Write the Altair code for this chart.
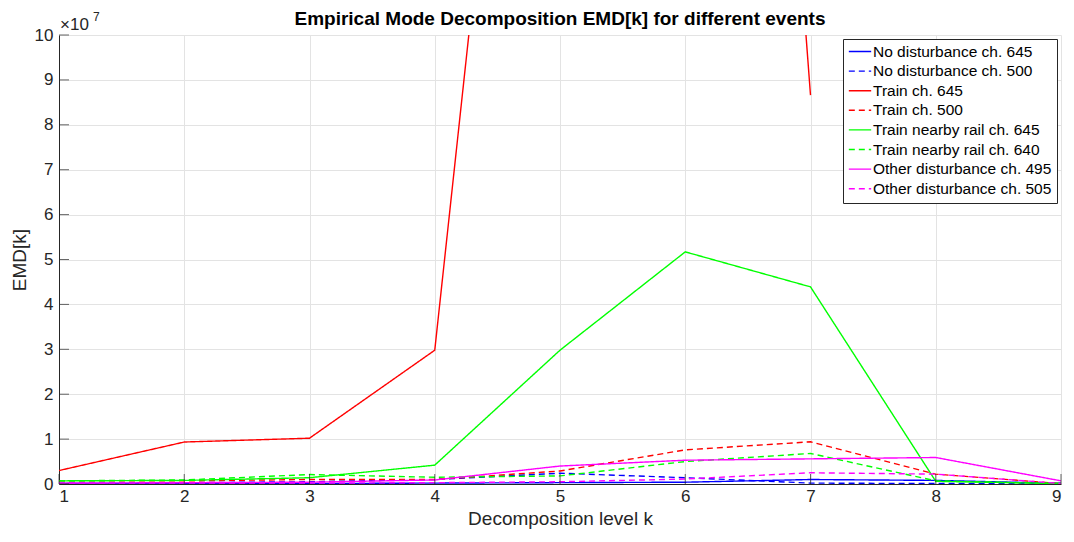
import altair as alt
import pandas as pd

# Decomposition levels k
levels = [1, 2, 3, 4, 5, 6, 7, 8, 9]

series_names = [
    "No disturbance ch. 645",
    "No disturbance ch. 500",
    "Train ch. 645",
    "Train ch. 500",
    "Train nearby rail ch. 645",
    "Train nearby rail ch. 640",
    "Other disturbance ch. 495",
    "Other disturbance ch. 505",
]
series_colors = ["#0000ff", "#0000ff", "#ff0000", "#ff0000",
                 "#00ff00", "#00ff00", "#ff00ff", "#ff00ff"]
series_dashes = [[1, 0], [6, 4], [1, 0], [6, 4],
                 [1, 0], [6, 4], [1, 0], [6, 4]]

# EMD[k] per event (Train ch. 645 is only available up to k = 7)
no_dist_645 = [0.01e7, 0.01e7, 0.01e7, 0.02e7, 0.03e7, 0.04e7, 0.10e7, 0.08e7, 0.015e7]
no_dist_500 = [0.02e7, 0.03e7, 0.05e7, 0.10e7, 0.24e7, 0.14e7, 0.02e7, 0.01e7, 0.01e7]
train_645 = [0.30e7, 0.935e7, 1.02e7, 2.98e7, 28.8e7, 45.8e7, 8.66e7]
train_500 = [0.07e7, 0.07e7, 0.10e7, 0.10e7, 0.29e7, 0.76e7, 0.94e7, 0.22e7, 0.01e7]
nearby_645 = [0.07e7, 0.08e7, 0.14e7, 0.42e7, 2.98e7, 5.17e7, 4.39e7, 0.06e7, 0.01e7]
nearby_640 = [0.07e7, 0.09e7, 0.21e7, 0.15e7, 0.18e7, 0.50e7, 0.68e7, 0.07e7, 0.01e7]
other_495 = [0.02e7, 0.03e7, 0.04e7, 0.09e7, 0.40e7, 0.53e7, 0.56e7, 0.59e7, 0.07e7]
other_505 = [0.02e7, 0.02e7, 0.02e7, 0.03e7, 0.05e7, 0.11e7, 0.25e7, 0.22e7, 0.01e7]

all_series = [no_dist_645, no_dist_500, train_645, train_500,
              nearby_645, nearby_640, other_495, other_505]

rows = []
for name, values in zip(series_names, all_series):
    for k, v in zip(levels, values):
        rows.append({"k": k, "emd": v, "event": name})
df = pd.DataFrame(rows)

FONT = "Liberation Sans"
AXIS_COLOR = "#262626"
GRID_COLOR = "#e3e3e3"
TICK_FONT = 17
LABEL_FONT = 19
LEGEND_FONT = 15.5

x_scale = alt.Scale(domain=[1, 9], nice=False, zero=False)
y_scale = alt.Scale(domain=[0, 1e8], nice=False)

lines = alt.Chart(df).mark_line(clip=True, strokeWidth=1.4).encode(
    x=alt.X("k:Q", scale=x_scale,
            axis=alt.Axis(title="Decomposition level k", values=levels,
                          format="d", grid=True, ticks=False,
                          labelPadding=4, titlePadding=5)),
    y=alt.Y("emd:Q", scale=y_scale,
            axis=alt.Axis(title="EMD[k]", values=[i * 1e7 for i in range(11)],
                          labelExpr="format(datum.value / 1e7, 'd')",
                          grid=True, ticks=False, labelPadding=6,
                          titlePadding=5)),
    color=alt.Color("event:N",
                    scale=alt.Scale(domain=series_names, range=series_colors),
                    legend=alt.Legend(title=None, orient="none",
                                      legendX=784, legendY=4,
                                      symbolType="stroke", symbolSize=500,
                                      symbolStrokeWidth=1.4,
                                      labelFontSize=LEGEND_FONT, labelFont=FONT,
                                      labelColor="#000000", labelOffset=1,
                                      labelLimit=300,
                                      rowPadding=3.6, clipHeight=15,
                                      padding=5, strokeColor=AXIS_COLOR,
                                      fillColor="#ffffff")),
    strokeDash=alt.StrokeDash("event:N",
                              scale=alt.Scale(domain=series_names,
                                              range=series_dashes),
                              legend=alt.Legend(title=None)),
    order=alt.Order("k:Q"),
)

# Inward tick marks along the bottom and left axes
x_ticks = alt.Chart(pd.DataFrame({"k": levels})).mark_tick(
    orient="vertical", color=AXIS_COLOR, size=10, thickness=1
).encode(x=alt.X("k:Q", scale=x_scale), y=alt.value(444))
y_ticks = alt.Chart(pd.DataFrame({"v": [i * 1e7 for i in range(11)]})).mark_tick(
    orient="horizontal", color=AXIS_COLOR, size=10, thickness=1
).encode(y=alt.Y("v:Q", scale=y_scale), x=alt.value(5))

# Scale factor of the y axis
exp_base = alt.Chart(pd.DataFrame({"t": ["\u00d710"]})).mark_text(
    font=FONT, fontSize=TICK_FONT, align="left", baseline="alphabetic",
    color=AXIS_COLOR
).encode(text="t:N", x=alt.value(1), y=alt.value(-5))
exp_power = alt.Chart(pd.DataFrame({"t": ["7"]})).mark_text(
    font=FONT, fontSize=12, align="left", baseline="alphabetic", color=AXIS_COLOR
).encode(text="t:N", x=alt.value(34), y=alt.value(-14))

chart = alt.layer(lines, x_ticks, y_ticks, exp_base, exp_power).properties(
    width=1002,
    height=449,
    autosize=alt.AutoSizeParams(type="none"),
    padding={"left": 59, "top": 35, "right": 13, "bottom": 58},
    title=alt.Title("Empirical Mode Decomposition EMD[k] for different events",
                    font=FONT, fontSize=LABEL_FONT, fontWeight="bold",
                    color="#000000", anchor="middle", offset=9, dy=27),
).configure(
    background="#ffffff"
).configure_view(
    stroke=None
).configure_axis(
    domainColor=AXIS_COLOR,
    gridColor=GRID_COLOR,
    labelFont=FONT,
    labelFontSize=TICK_FONT,
    labelColor=AXIS_COLOR,
    titleFont=FONT,
    titleFontSize=LABEL_FONT,
    titleFontWeight="normal",
    titleColor=AXIS_COLOR,
)

chart.save("out.html", embed_options={"renderer": "svg", "actions": False})
